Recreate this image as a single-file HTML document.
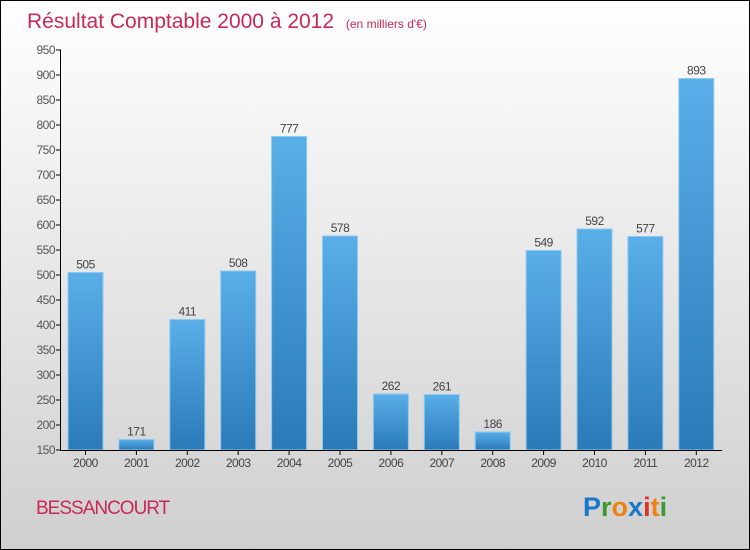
<!DOCTYPE html>
<html><head><meta charset="utf-8"><style>
html,body{margin:0;padding:0}
body{width:750px;height:550px;overflow:hidden;font-family:"Liberation Sans",sans-serif}
#wrap{position:relative;width:748px;height:548px;border:1px solid #000;background:linear-gradient(#ffffff,#cfcfcf)}
</style></head><body>
<div id="wrap">
<svg id="chart" width="748" height="548" style="position:absolute;left:0;top:0">
<defs><linearGradient id="bg" x1="0" y1="0" x2="0" y2="1"><stop offset="0" stop-color="#5aafe8"/><stop offset="1" stop-color="#2a7ab8"/></linearGradient></defs>
<text x="26" y="27" font-size="21" fill="#c8285a">Résultat Comptable 2000 à 2012 <tspan font-size="12" dx="6">(en milliers d'€)</tspan></text>
<g id="yaxis"></g><g id="bars"></g><g id="xaxis"></g>
<text x="35" y="513" font-size="19" fill="#c8285a" letter-spacing="-1">BESSANCOURT</text>
<text x="582" y="515" font-size="27" font-weight="bold"><tspan fill="#1a78c8">P</tspan><tspan fill="#3a9a30">r</tspan><tspan fill="#f08010">o</tspan><tspan fill="#1a78c8">x</tspan><tspan fill="#e03020">i</tspan><tspan fill="#f08010">t</tspan><tspan fill="#3a9a30">i</tspan></text>
</svg>
</div>
<script>
const categories=["2000","2001","2002","2003","2004","2005","2006","2007","2008","2009","2010","2011","2012"];
const values=[505,171,411,508,777,578,262,261,186,549,592,577,893];
const yTicks=[150,200,250,300,350,400,450,500,550,600,650,700,750,800,850,900,950];
const NS="http://www.w3.org/2000/svg";
const y0=449,y1=49,vMin=150,vMax=950;
function y(v){return y0-(v-vMin)/(vMax-vMin)*(y0-y1);}
function x(i){return 84.5+i*50.9;}
function mk(t,a,p){const e=document.createElementNS(NS,t);for(const k in a)e.setAttribute(k,a[k]);p.appendChild(e);return e;}
const ya=document.getElementById('yaxis'),ba=document.getElementById('bars'),xa=document.getElementById('xaxis');
const axl=mk('line',{x1:59.5,y1:y1,x2:59.5,y2:y0+1,stroke:'#000'},ya);


yTicks.forEach(t=>{
 mk('line',{x1:55,x2:60,y1:y(t),y2:y(t),stroke:'#000'},ya);
 const tx=mk('text',{x:54,y:y(t)+4,'text-anchor':'end','font-size':12,fill:'#555','letter-spacing':'-0.5'},ya);
 tx.textContent=t;
 
 
});
const xl=mk('line',{x1:59.5,x2:721,y1:y0+0.5,y2:y0+0.5,stroke:'#000'},xa);


categories.forEach((c,i)=>{
 const cx=x(i),v=values[i];
 const r=mk('rect',{x:cx-17.5,y:y(v),width:35,height:y0-y(v),fill:'url(#bg)',stroke:'#8ccaf2','stroke-width':1},ba);
 
 
 const vl=mk('text',{x:cx,y:y(v)-4,'text-anchor':'middle','font-size':12,fill:'#444','letter-spacing':'-0.5'},ba);
 vl.textContent=v;
 
 
 mk('line',{x1:cx,x2:cx,y1:y0,y2:y0+5,stroke:'#000'},xa);
 const tl=mk('text',{x:cx,y:y0+17,'text-anchor':'middle','font-size':12,fill:'#444','letter-spacing':'-0.5'},xa);
 tl.textContent=c;
 
 
});
</script>
</body></html>
